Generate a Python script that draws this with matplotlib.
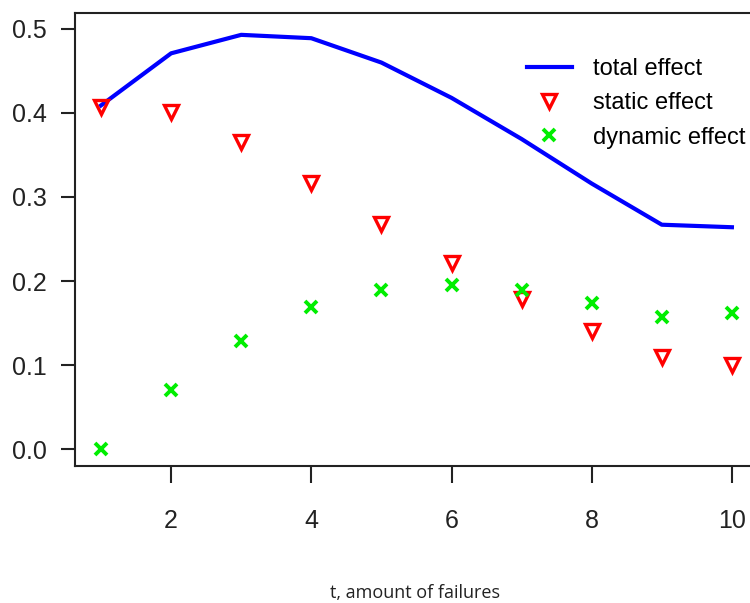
import numpy as np
import matplotlib
matplotlib.use('Agg')
import matplotlib.pyplot as plt

# data
t = [1, 2, 3, 4, 5, 6, 7, 8, 9, 10]
total_effect = [0.409, 0.471, 0.493, 0.489, 0.460, 0.418, 0.369, 0.316, 0.267, 0.264]
static_effect = [0.407, 0.401, 0.365, 0.317, 0.268, 0.221, 0.179, 0.140, 0.110, 0.100]
dynamic_effect = [0.000, 0.070, 0.128, 0.169, 0.189, 0.195, 0.189, 0.174, 0.157, 0.162]
xticks = [2, 4, 6, 8, 10]
yticks = [0.0, 0.1, 0.2, 0.3, 0.4, 0.5]

plt.rcParams['font.family'] = ['Liberation Sans', 'DejaVu Sans']

W, H = 750, 603
fig = plt.figure(figsize=(W / 100, H / 100), dpi=100)
# axes box runs a little past the right edge of the picture, as in the reference
ax = fig.add_axes([75 / W, (H - 466) / H, 682 / W, 453 / H])

ax.plot(t, total_effect, color='#0000ff', lw=3, label='total effect', zorder=2)
ax.plot(t, static_effect, 'v', ms=10, mfc='none', mec='#ff0000', mew=2.4,
        label='static effect', zorder=3)
ax.plot(t, dynamic_effect, 'x', ms=8.5, color='#00ee00', mew=2.8,
        label='dynamic effect', zorder=3)

ax.set_xlim(0.629, 10.358)
ax.set_ylim(-0.0202, 0.519)
ax.set_xticks(xticks)
ax.set_yticks(yticks)
ax.set_xticklabels([str(v) for v in xticks])
ax.set_yticklabels(['%.1f' % v for v in yticks])

for s in ['left', 'top', 'bottom']:
    ax.spines[s].set_color('#222222')
    ax.spines[s].set_linewidth(1.5)
ax.spines['right'].set_visible(False)

ax.tick_params(axis='x', length=12, width=1.5, color='#222222', pad=19,
               labelsize=18, labelcolor='#222222')
ax.tick_params(axis='y', length=10, width=1.5, color='#222222', pad=10,
               labelsize=18, labelcolor='#222222')

ax.legend(loc='upper left', bbox_to_anchor=(527 / W, 1 - 58 / H),
          bbox_transform=fig.transFigure, frameon=False, fontsize=17,
          handlelength=1.9, handletextpad=0.9, labelspacing=0.52,
          borderpad=0, borderaxespad=0)

fig.text(415 / W, 1 - 593 / H, 't, amount of failures', family='Open Sans',
         fontsize=13, color='#222222', ha='center', va='center')

fig.savefig('out.png', dpi=100)
